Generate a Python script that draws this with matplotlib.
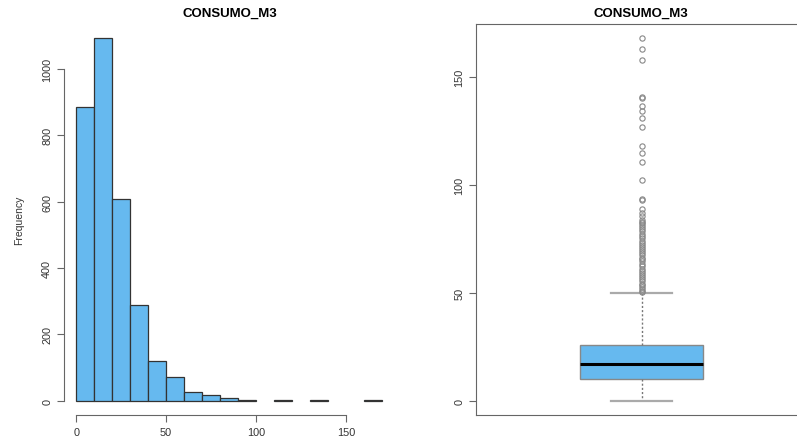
import numpy as np
import matplotlib
matplotlib.use("Agg")
from matplotlib import pyplot as plt

plt.rcParams['font.family'] = ['Liberation Sans', 'DejaVu Sans']

# histogram of CONSUMO_M3 (bin edges / counts)
bin_edges = [0, 10, 20, 30, 40, 50, 60, 70, 80, 90, 100, 110, 120, 130, 140, 150, 160, 170]
bin_counts = [885, 1092, 608, 289, 119, 72, 25, 17, 9, 2, 0, 1, 0, 3, 0, 0, 2]

# boxplot stats
q1, med, q3 = 10.0, 16.9, 25.6
whisk_lo, whisk_hi = 0.0, 49.8
outliers = [168.1, 163.0, 158.1, 140.7, 140.2, 136.8, 134.2, 131.1, 126.9,
            118.0, 114.9, 110.9, 102.1, 93.7, 92.9, 88.7, 87.2, 85.6, 84.0,
            83.0, 82.2, 81.4, 80.5, 79.7, 78.6, 77.5, 76.4, 75.3, 74.2, 73.1,
            72.3, 71.4, 70.2, 69.3, 68.5, 67.4, 66.3, 65.5, 64.6, 63.4, 62.2,
            61.1, 60.0, 59.2, 58.1, 57.3, 56.2, 55.4, 54.3, 53.5, 52.6, 51.8,
            51.0, 50.4]

fill = '#66B9EF'
gray = '#666666'

fig = plt.figure(figsize=(7.97, 4.39), dpi=100)
W, H = 797, 439

def px_axes(l, t, r, b):
    return fig.add_axes([l / W, 1 - b / H, (r - l) / W, (b - t) / H])

# ---- histogram
ax1 = px_axes(64, 25, 394, 416)
lefts = np.array(bin_edges[:-1])
widths = np.diff(bin_edges)
counts = np.array(bin_counts)
keep = counts > 0
ax1.bar(lefts[keep], counts[keep], width=widths[keep], align='edge',
        color=fill, edgecolor='#333333', linewidth=0.9)
ax1.set_xlim(-6.8, 176.8)
ax1.set_ylim(-43.7, 1135.7)
for s in ['top', 'right']:
    ax1.spines[s].set_visible(False)
ax1.spines['left'].set_bounds(0, 1000)
ax1.spines['bottom'].set_bounds(0, 150)
for s in ['left', 'bottom']:
    ax1.spines[s].set_color(gray)
ax1.set_xticks([0, 50, 100, 150])
ax1.set_yticks([0, 200, 400, 600, 800, 1000])
ax1.tick_params(colors=gray, labelcolor='#333333', labelsize=7.8, length=5)
plt.setp(ax1.get_yticklabels(), rotation=90, va='center')
ax1.set_ylabel('Frequency', fontsize=7.5, color='#333333', labelpad=13)
fig.text(230 / W, 1 - 14 / H, 'CONSUMO_M3', fontsize=9.5, fontweight='bold',
         ha='center', va='center')

# ---- boxplot (frame runs past the right edge of the picture)
ax2 = px_axes(476, 25, 807, 416)
stats = [dict(med=med, q1=q1, q3=q3, whislo=whisk_lo, whishi=whisk_hi,
              fliers=outliers)]
ax2.bxp(stats, positions=[1], widths=0.40, patch_artist=True,
        boxprops=dict(facecolor=fill, edgecolor='#888888', linewidth=1),
        medianprops=dict(color='black', linewidth=2.2),
        whiskerprops=dict(color='#777777', linestyle=(0, (1.5, 1.5)), linewidth=1),
        capprops=dict(color='#aaaaaa', linewidth=1.6),
        capwidths=0.20,
        flierprops=dict(marker='o', markerfacecolor='none',
                        markeredgecolor='#888888', markersize=3.8,
                        markeredgewidth=0.8))
ax2.set_xlim(0.46, 1.54)
ax2.set_ylim(-6.7, 174.7)
ax2.set_xticks([])
ax2.set_yticks([0, 50, 100, 150])
for s in ax2.spines.values():
    s.set_color(gray)
ax2.tick_params(colors=gray, labelcolor='#333333', labelsize=7.8, length=5)
plt.setp(ax2.get_yticklabels(), rotation=90, va='center')
fig.text(641 / W, 1 - 14 / H, 'CONSUMO_M3', fontsize=9.5, fontweight='bold',
         ha='center', va='center')

fig.savefig('out.png', dpi=100)
